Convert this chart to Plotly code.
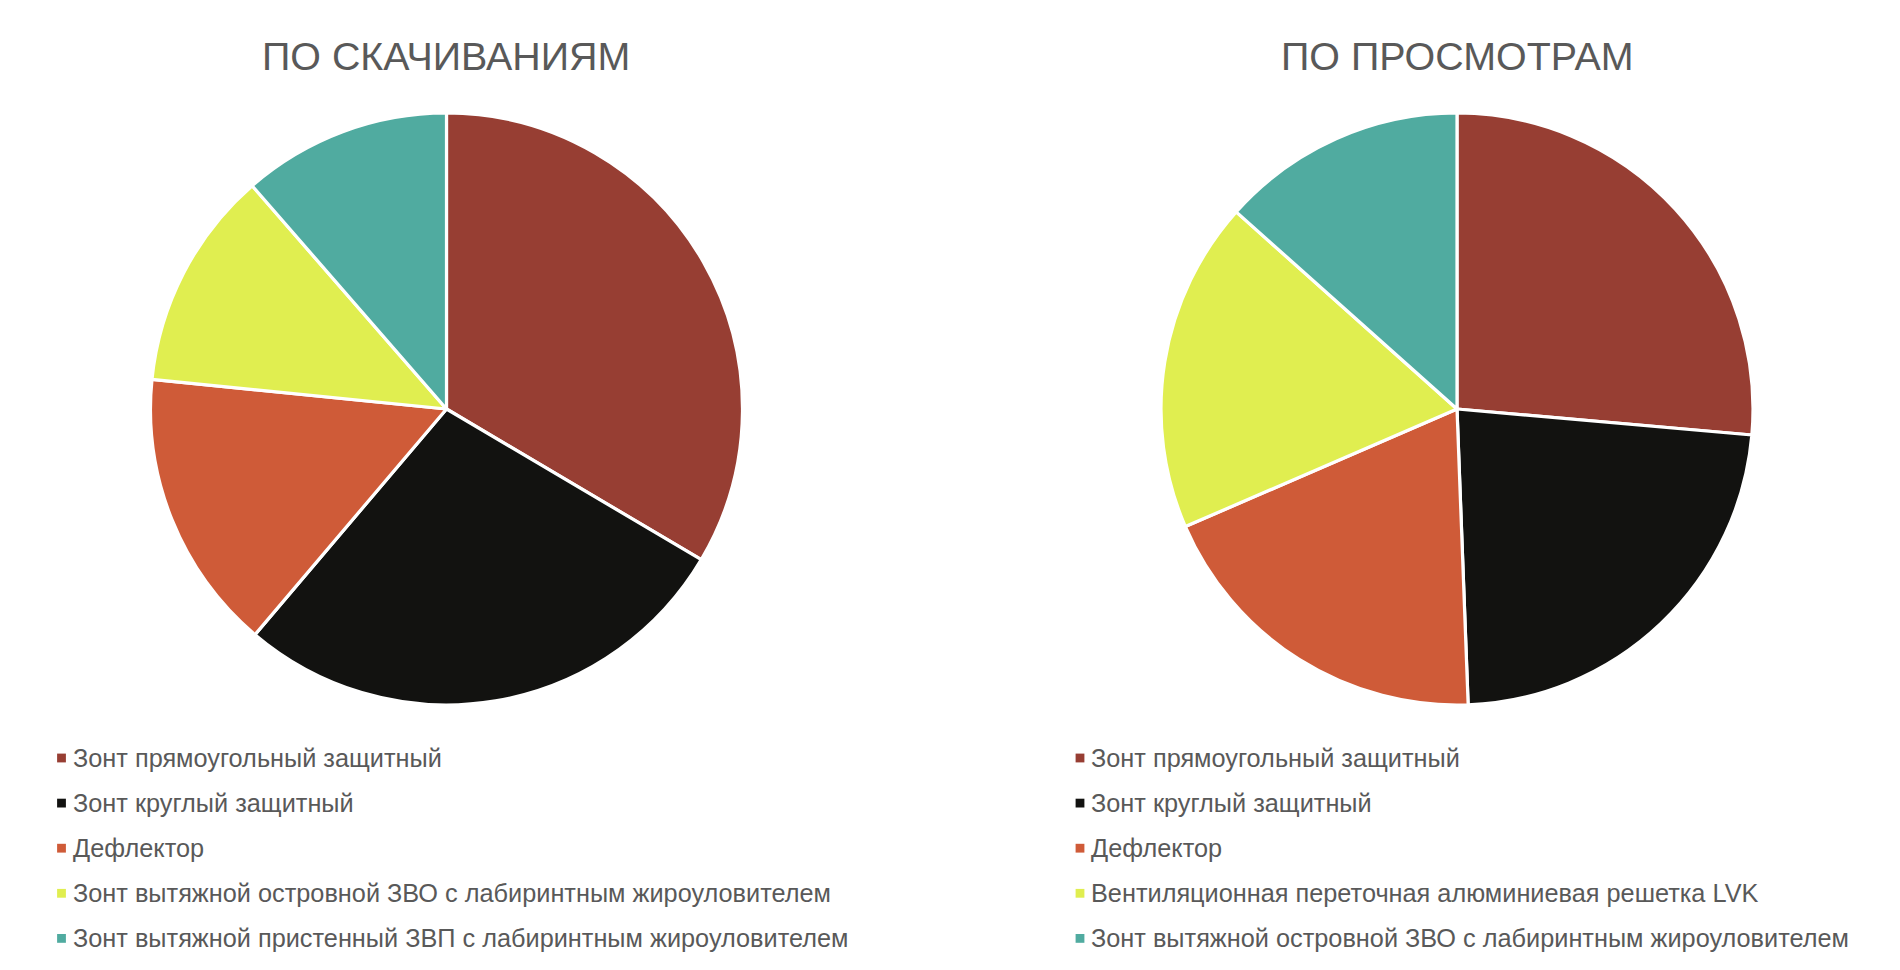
import plotly.graph_objects as go

# ---------------- data ----------------
titles = ["ПО СКАЧИВАНИЯМ", "ПО ПРОСМОТРАМ"]

labels_downloads = [
    "Зонт прямоугольный защитный",
    "Зонт круглый защитный",
    "Дефлектор",
    "Зонт вытяжной островной ЗВО с лабиринтным жироуловителем",
    "Зонт вытяжной пристенный ЗВП с лабиринтным жироуловителем",
]
values_downloads = [33.5, 27.7, 15.4, 12.0, 11.4]

labels_views = [
    "Зонт прямоугольный защитный",
    "Зонт круглый защитный",
    "Дефлектор",
    "Вентиляционная переточная алюминиевая решетка LVK",
    "Зонт вытяжной островной ЗВО с лабиринтным жироуловителем",
]
values_views = [26.4, 23.0, 19.1, 18.1, 13.4]

slice_colors = ["#973E33", "#121210", "#CF5B38", "#E0EE50", "#50ABA0"]

# ---------------- layout constants (page pixels) ----------------
PAGE_W, PAGE_H = 1900, 970
OFF = 8                              # default body margin of the page
W, H = PAGE_W - 2 * OFF, PAGE_H - 2 * OFF
FONT = "Liberation Sans, Arial, Helvetica, sans-serif"
TEXT_COLOR = "#595959"
R = 296                              # pie radius incl. half of the white border
CENTERS = [(446.5, 409), (1457, 409)]
TITLE_POS = [(446, 55.5), (1457, 55.5)]
LEGEND_MARKER_X = [61.5, 1080]
LEGEND_TEXT_X = [70.5, 1088.5]
LEGEND_Y0, LEGEND_DY = 758, 45.1
MARK = 8.8


def px_x(x):
    return (x - OFF) / W


def px_y(y):
    return 1 - (y - OFF) / H


fig = go.Figure()
annotations = []
shapes = []

for i, (labels, values) in enumerate([(labels_downloads, values_downloads),
                                       (labels_views, values_views)]):
    cx, cy = CENTERS[i]
    fig.add_trace(go.Pie(
        labels=labels,
        values=values,
        sort=False,
        direction="clockwise",
        rotation=0,
        textinfo="none",
        hoverinfo="label+percent",
        marker=dict(colors=slice_colors, line=dict(color="white", width=3.2)),
        domain=dict(x=[px_x(cx - R), px_x(cx + R)],
                    y=[px_y(cy + R), px_y(cy - R)]),
        showlegend=False,
        name=titles[i],
    ))

    tx, ty = TITLE_POS[i]
    annotations.append(dict(
        text=titles[i], x=px_x(tx), y=px_y(ty), xref="paper", yref="paper",
        xanchor="center", yanchor="middle", showarrow=False,
        font=dict(family=FONT, size=39.4, color=TEXT_COLOR),
    ))

    # legend rows built from the same labels / colours
    for k, lab in enumerate(labels):
        yc = LEGEND_Y0 + k * LEGEND_DY
        mx = LEGEND_MARKER_X[i]
        shapes.append(dict(
            type="rect", xref="paper", yref="paper",
            x0=px_x(mx - MARK / 2), x1=px_x(mx + MARK / 2),
            y0=px_y(yc + MARK / 2), y1=px_y(yc - MARK / 2),
            fillcolor=slice_colors[k], line=dict(width=0),
        ))
        annotations.append(dict(
            text=lab, x=px_x(LEGEND_TEXT_X[i]), y=px_y(yc),
            xref="paper", yref="paper", xanchor="left", yanchor="middle",
            showarrow=False,
            font=dict(family=FONT, size=25.3, color=TEXT_COLOR),
        ))

fig.update_layout(
    width=W, height=H,
    margin=dict(l=0, r=0, t=0, b=0),
    paper_bgcolor="white",
    plot_bgcolor="white",
    showlegend=False,
    annotations=annotations,
    shapes=shapes,
    font=dict(family=FONT, color=TEXT_COLOR),
)

fig.write_html("out.html")
